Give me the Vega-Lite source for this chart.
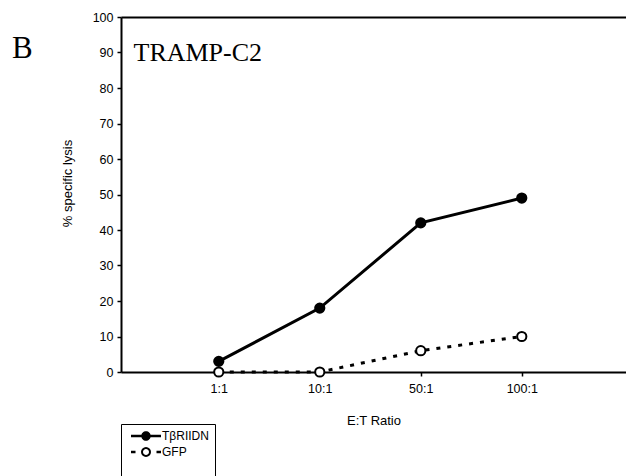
{
  "$schema": "https://vega.github.io/schema/vega-lite/v6.json",
  "width": 505,
  "height": 355,
  "autosize": {"type": "none"},
  "padding": {"left": 121, "top": 17, "right": 0, "bottom": 104},
  "background": "white",
  "config": {
    "view": {"stroke": null},
    "font": "Liberation Sans",
    "axis": {
      "labelColor": "black",
      "domainColor": "black",
      "tickColor": "black",
      "titleColor": "black",
      "grid": false,
      "labelFont": "Liberation Sans",
      "titleFont": "Liberation Sans",
      "titleFontWeight": "normal"
    }
  },
  "title": {
    "text": "B",
    "anchor": "start",
    "frame": "group",
    "orient": "top",
    "baseline": "alphabetic",
    "offset": -78,
    "dx": -109,
    "font": "Liberation Serif",
    "fontSize": 31,
    "fontWeight": "normal",
    "color": "black"
  },
  "data": {
    "values": [
      {"ratio": "1:1", "group": "TβRIIDN", "lysis": 3},
      {"ratio": "10:1", "group": "TβRIIDN", "lysis": 18},
      {"ratio": "50:1", "group": "TβRIIDN", "lysis": 42},
      {"ratio": "100:1", "group": "TβRIIDN", "lysis": 49},
      {"ratio": "1:1", "group": "GFP", "lysis": 0},
      {"ratio": "10:1", "group": "GFP", "lysis": 0},
      {"ratio": "50:1", "group": "GFP", "lysis": 6},
      {"ratio": "100:1", "group": "GFP", "lysis": 10}
    ]
  },
  "encoding": {
    "y": {
      "field": "lysis",
      "type": "quantitative",
      "scale": {"domain": [0, 100], "nice": false},
      "axis": {
        "title": "% specific lysis",
        "values": [0, 10, 20, 30, 40, 50, 60, 70, 80, 90, 100],
        "labelFontSize": 12.5,
        "labelPadding": 4,
        "tickSize": 4,
        "tickWidth": 1.5,
        "domainWidth": 2,
        "titleFontSize": 13,
        "titlePadding": 18,
        "titleY": 166
      }
    }
  },
  "layer": [
    {
      "transform": [{"filter": {"field": "group", "equal": "TβRIIDN"}}],
      "mark": {"type": "line", "color": "black", "strokeWidth": 3},
      "encoding": {
        "x": {
          "field": "ratio",
          "type": "ordinal",
          "sort": ["1:1", "10:1", "50:1", "100:1"],
          "scale": {"type": "point", "padding": 1.038, "align": 0.484},
          "axis": {
            "orient": "bottom",
            "title": "E:T Ratio",
            "labelAngle": 0,
            "labelFontSize": 12.5,
            "labelPadding": 6,
            "tickSize": 4,
            "tickWidth": 1.5,
            "domainWidth": 2,
            "titleFontSize": 13,
            "titlePadding": 20
          }
        }
      }
    },
    {
      "transform": [{"filter": {"field": "group", "equal": "GFP"}}],
      "mark": {"type": "line", "color": "black", "strokeWidth": 3, "strokeDash": [4, 7]},
      "encoding": {
        "x": {
          "field": "ratio",
          "type": "ordinal",
          "sort": ["1:1", "10:1", "50:1", "100:1"],
          "scale": {"type": "point", "padding": 1.038, "align": 0.484},
          "axis": null
        }
      }
    },
    {
      "transform": [{"filter": {"field": "group", "equal": "TβRIIDN"}}],
      "mark": {"type": "point", "filled": true, "fill": "black", "size": 85, "stroke": "black", "strokeWidth": 2, "opacity": 1},
      "encoding": {
        "x": {
          "field": "ratio",
          "type": "ordinal",
          "sort": ["1:1", "10:1", "50:1", "100:1"],
          "scale": {"type": "point", "padding": 1.038, "align": 0.484},
          "axis": {
            "orient": "top",
            "labels": false,
            "ticks": false,
            "domainWidth": 2,
            "title": "TRAMP-C2",
            "titleFont": "Liberation Serif",
            "titleFontSize": 26,
            "titleFontWeight": "normal",
            "titleAlign": "left",
            "titleBaseline": "alphabetic",
            "titleAngle": 0,
            "titleX": 12,
            "titleY": 43
          }
        }
      }
    },
    {
      "transform": [{"filter": {"field": "group", "equal": "GFP"}}],
      "mark": {"type": "point", "filled": true, "fill": "white", "size": 85, "stroke": "black", "strokeWidth": 2, "opacity": 1},
      "encoding": {
        "x": {
          "field": "ratio",
          "type": "ordinal",
          "sort": ["1:1", "10:1", "50:1", "100:1"],
          "scale": {"type": "point", "padding": 1.038, "align": 0.484},
          "axis": null
        }
      }
    },
    {
      "mark": {"type": "point", "filled": true, "color": "black", "size": 0, "strokeWidth": 0},
      "encoding": {
        "x": {
          "field": "ratio",
          "type": "ordinal",
          "sort": ["1:1", "10:1", "50:1", "100:1"],
          "scale": {"type": "point", "padding": 1.038, "align": 0.484},
          "axis": null
        },
        "shape": {
          "field": "group",
          "type": "nominal",
          "scale": {
            "domain": ["TβRIIDN", "GFP"],
            "range": [
              "M-3,-0.25H3V0.25H-3ZM0.95,0A0.95,0.95,0,1,1,-0.95,0A0.95,0.95,0,1,1,0.95,0Z",
              "M-3,-0.25L-2.1,-0.25L-2.1,0.25L-3,0.25ZM2.1,-0.25L3,-0.25L3,0.25L2.1,0.25ZM1,0L0.924,0.383L0.707,0.707L0.383,0.924L0,1L-0.383,0.924L-0.707,0.707L-0.924,0.383L-1,0L-0.924,-0.383L-0.707,-0.707L-0.383,-0.924L0,-1L0.383,-0.924L0.707,-0.707L0.924,-0.383ZM0.6,0L0.554,-0.23L0.424,-0.424L0.23,-0.554L0,-0.6L-0.23,-0.554L-0.424,-0.424L-0.554,-0.23L-0.6,0L-0.554,0.23L-0.424,0.424L-0.23,0.554L0,0.6L0.23,0.554L0.424,0.424L0.554,0.23Z"
            ]
          },
          "legend": {
            "orient": "none",
            "legendX": 0,
            "legendY": 407,
            "title": "\u00a0",
            "titleOrient": "bottom",
            "titleFontSize": 10,
            "titlePadding": 8,
            "strokeColor": "black",
            "fillColor": "white",
            "padding": 6,
            "symbolSize": 100,
            "symbolOffset": 13,
            "symbolFillColor": "black",
            "symbolStrokeWidth": 0,
            "symbolOpacity": 1,
            "labelOffset": 10,
            "labelFontSize": 12,
            "labelColor": "black",
            "rowPadding": 4,
            "encode": {
              "labels": {
                "update": {
                  "font": {"signal": "datum.value === 'GFP' ? 'Liberation Sans' : 'Liberation Serif'"},
                  "fontWeight": {"signal": "datum.value === 'GFP' ? 'normal' : 'bold'"},
                  "dx": {"signal": "datum.value === 'GFP' ? 12 : 0"}
                }
              }
            }
          }
        }
      }
    }
  ],
  "resolve": {"axis": {"x": "independent"}}
}
